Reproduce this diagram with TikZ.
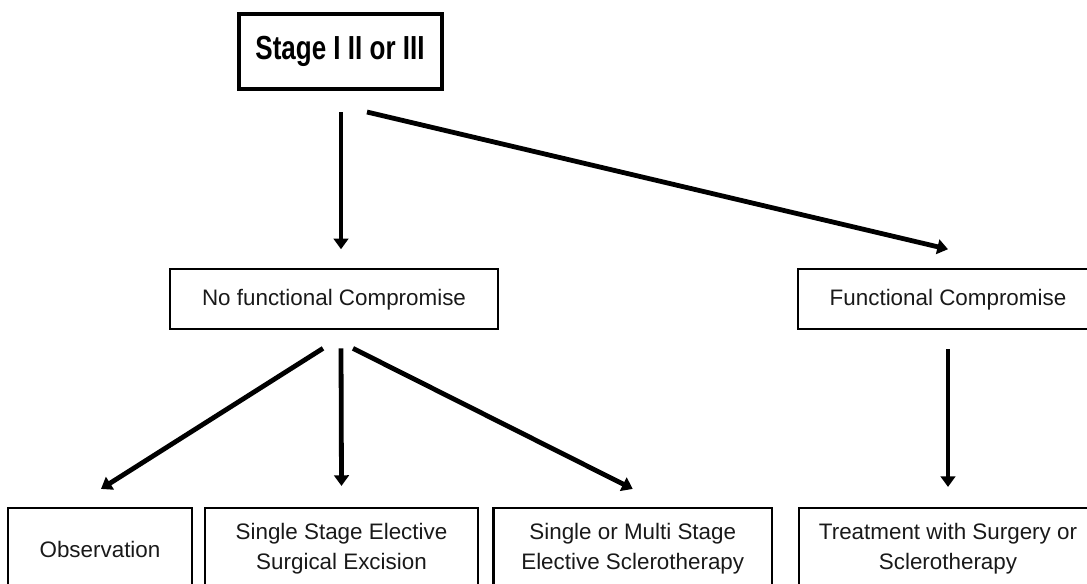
\documentclass[tikz,border=0pt]{standalone}
\usepackage{fontspec}
\setmainfont{Liberation Sans}
\usepackage{graphicx}
\usetikzlibrary{arrows.meta,calc}

\tikzset{
  box/.style={draw=black, line width=1.6pt, rectangle, inner sep=0pt, align=center,
              font=\fontsize{16.8}{22.5}\selectfont, text=black!90},
  topbox/.style={draw=black, line width=3pt, rectangle, inner sep=0pt, align=center,
              font=\fontsize{25}{30}\selectfont\bfseries},
  arr/.style={line width=3.6pt, -{Triangle[width=11pt,length=8pt]}},
}

\begin{document}
\begin{tikzpicture}[x=0.75pt, y=-0.75pt]
  \useasboundingbox (0,0) rectangle (1087,584);
  \clip (0,0) rectangle (1087,584);

  % top level
  \node[topbox, minimum width=152.25pt, minimum height=55.9pt] (stage) at (340,51.75)
    {\scalebox{0.78}[1]{Stage I II or III}};

  % second level
  \node[box, minimum width=246pt, minimum height=45pt] (nofc) at (334,299.3)
    {No functional Compromise};
  \node[box, minimum width=225pt, minimum height=45pt] (fc) at (948,299.3)
    {Functional Compromise};

  % third level
  \node[box, minimum width=138pt, minimum height=61.5pt] (obs) at (100,549)
    {Observation};
  \node[box, minimum width=204.75pt, minimum height=61.5pt] (sse) at (341.5,549)
    {Single Stage Elective\\Surgical Excision};
  \node[box, minimum width=208.9pt, minimum height=61.5pt] (sme) at (632.75,549)
    {Single or Multi Stage\\Elective Sclerotherapy};
  \node[box, minimum width=223.5pt, minimum height=61.5pt] (trt) at (948,549)
    {Treatment with Surgery or\\Sclerotherapy};

  % connectors
  \draw[arr] ($(stage.south)+(1,21)$) -- ($(nofc.north)+(7,-19)$);
  \draw[arr] ($(stage.south)+(27,21)$) -- ($(fc.north)+(0,-19)$);
  \draw[arr] ($(nofc.south)+(-11,18)$) -- ($(obs.north)+(1,-18)$);
  \draw[arr] ($(nofc.south)+(7,18)$) -- ($(sse.north)+(0,-21)$);
  \draw[arr] ($(nofc.south)+(19,18)$) -- ($(sme.north)+(0,-18)$);
  \draw[arr] ($(fc.south)+(0,19)$) -- ($(trt.north)+(0,-20)$);
\end{tikzpicture}
\end{document}
